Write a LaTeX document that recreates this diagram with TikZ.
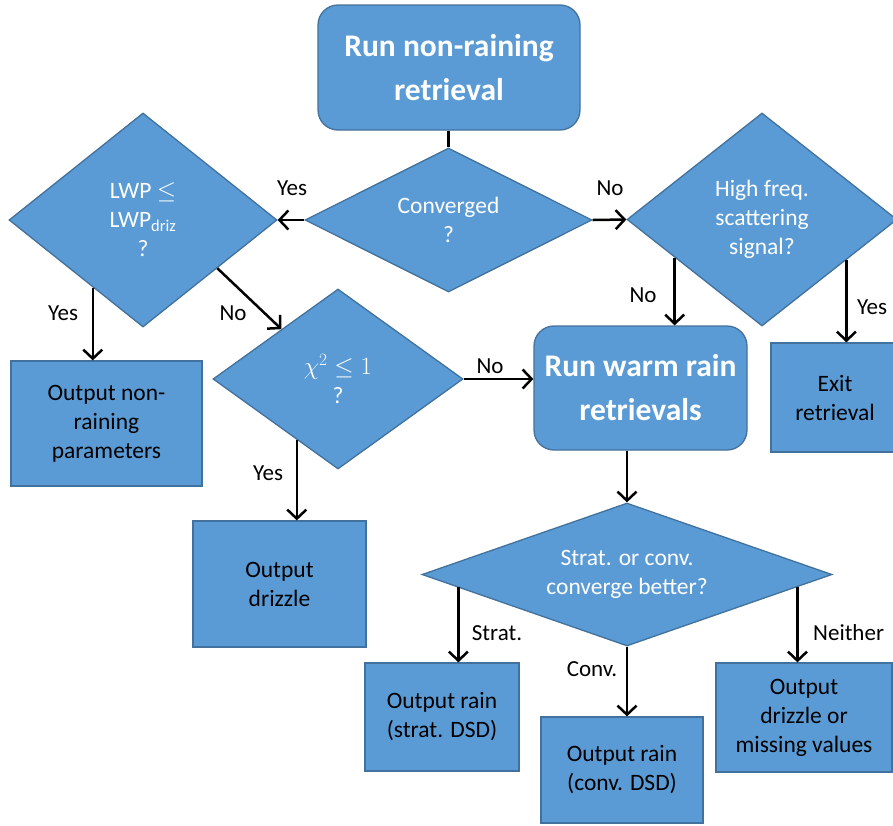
\documentclass[tikz,border=0pt]{standalone}
\usepackage{fontspec}
\setmainfont{Carlito}
\usetikzlibrary{shapes.geometric,arrows.meta,calc}
\definecolor{fillb}{HTML}{5B9BD5}
\definecolor{edgeb}{HTML}{41719C}
\begin{document}
\begin{tikzpicture}[x=1pt,y=-1pt,
 base/.style={draw=edgeb,fill=fillb,line width=1.3pt,inner sep=0pt,align=center,font=\fontsize{23.5}{29}\selectfont},
 dia/.style={base,diamond,text=white},
 rbox/.style={base,rectangle,rounded corners=20pt,text=white,font=\fontsize{31.5}{44}\selectfont\bfseries},
 obox/.style={base,rectangle,text=black},
 arr/.style={line width=2.5pt,-{Straight Barb[length=9pt,width=19pt,line width=2.5pt]}},
 lbl/.style={font=\fontsize{23}{26}\selectfont,inner sep=0pt}]
\path[use as bounding box] (0,0) rectangle (893,825);
\clip (0,0) rectangle (893,825);

% nodes
\node[rbox,minimum width=262pt,minimum height=125pt] (top) at (449,67.5) {Run non-raining\\retrieval};
\node[dia,aspect=2,minimum width=287pt,minimum height=144pt] (conv) at (448.5,220) {Converged\\?};
\node[dia,aspect=1.25,minimum width=268pt,minimum height=214pt] (lwp) at (143,220) {LWP \(\leq\)\\LWP\textsubscript{driz}\\?};
\node[dia,aspect=1.27,minimum width=270pt,minimum height=213pt] (high) at (762,219.5) {High freq.\\scattering\\signal?};
\node[obox,minimum width=191pt,minimum height=125pt] (outA) at (106.5,423.5) {Output non-\\raining\\parameters};
\node[dia,aspect=1.39,minimum width=250pt,minimum height=180pt] (chi) at (338,379) {\(\chi^{2}\leq 1\)\\?};
\node[obox,minimum width=173pt,minimum height=126pt] (outD) at (279.5,584) {Output\\drizzle};
\node[rbox,minimum width=213pt,minimum height=124pt] (warm) at (640.5,388) {Run warm rain\\retrievals};
\node[obox,minimum width=128pt,minimum height=109pt] (exit) at (835,397.5) {Exit\\retrieval};
\node[dia,aspect=2.87,minimum width=410pt,minimum height=143pt] (strat) at (627,574.5) {Strat. or conv.\\converge better?};
\node[obox,minimum width=154pt,minimum height=108pt] (outS) at (442,717) {Output rain\\(strat. DSD)};
\node[obox,minimum width=162pt,minimum height=106pt] (outC) at (622,770) {Output rain\\(conv. DSD)};
\node[obox,minimum width=176pt,minimum height=109pt] (outN) at (804,717.5) {Output\\drizzle or\\missing values};

% start points on diamond edges
\coordinate (lwpY) at ($(lwp.west)!0.627!(lwp.south)$);
\coordinate (lwpN) at ($(lwp.east)!0.448!(lwp.south)$);
\coordinate (chiIn) at ($(chi.west)!0.55!(chi.north)$);
\coordinate (chiY) at ($(chi.west)!0.672!(chi.south)$);
\coordinate (highN) at ($(high.west)!0.356!(high.south)$);
\coordinate (highY) at ($(high.east)!0.378!(high.south)$);
\coordinate (stratS) at ($(strat.west)!0.18!(strat.south)$);
\coordinate (stratN) at ($(strat.east)!0.171!(strat.south)$);

% connectors
\draw[line width=2.5pt] (top.south -| conv.north) -- (conv.north);
\draw[arr] (conv.west) -- (lwp.east);
\draw[arr] (conv.east) -- (high.west);
\draw[arr] (lwpY) -- (lwpY |- outA.north);
\draw[arr] (lwpN) -- (chiIn);
\draw[arr] (chi.east) -- (chi.east -| warm.west);
\draw[arr] (chiY) -- (chiY |- outD.north);
\draw[arr] (highN) -- (highN |- warm.north);
\draw[arr] (highY) -- (highY |- exit.north);
\draw[arr] (strat.north |- warm.south) -- (strat.north);
\draw[arr] (stratS) -- (stratS |- outS.north);
\draw[arr] (strat.south) -- (strat.south |- outC.north);
\draw[arr] (stratN) -- (stratN |- outN.north);

% labels
\node[lbl] (l1) at (292,188) {Yes};
\node[lbl] (l2) at (610,188) {No};
\node[lbl] (l3) at (63,313) {Yes};
\node[lbl] (l4) at (233,313) {No};
\node[lbl] (l5) at (490,366) {No};
\node[lbl] (l6) at (268,473) {Yes};
\node[lbl] (l7) at (643,295) {No};
\node[lbl] (l8) at (872,307) {Yes};
\node[lbl] (l9) at (497,633) {Strat.};
\node[lbl] (l10) at (592,669) {Conv.};
\node[lbl,anchor=west] (l11) at (813,633) {Neither};
\end{tikzpicture}
\end{document}
